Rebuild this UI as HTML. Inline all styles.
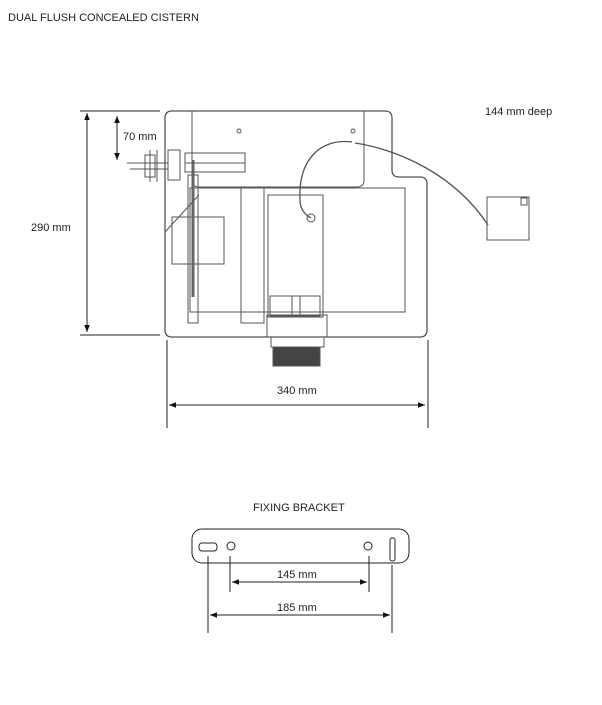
<!DOCTYPE html>
<html><head><style>
body{margin:0;background:#fff;}
svg text{font-family:"Liberation Sans",sans-serif;fill:#222;}
</style></head><body>
<svg width="602" height="700" viewBox="0 0 602 700" xmlns="http://www.w3.org/2000/svg">
<defs>
<marker id="a" viewBox="0 0 10 10" refX="10" refY="5" markerWidth="7" markerHeight="7" orient="auto-start-reverse"><path d="M0,1L10,5L0,9z" fill="#111"/></marker>
</defs>
<text x="8" y="21" font-size="11">DUAL FLUSH CONCEALED CISTERN</text>
<g stroke="#555" fill="none" stroke-width="1">
<!-- cistern outline -->
<path d="M172,111 H385 Q392,111 392,118 V170 Q392,177 399,177 H420 Q427,177 427,184 V330 Q427,337 420,337 H172 Q165,337 165,330 V118 Q165,111 172,111 Z" stroke-width="1.3"/>
<path d="M192,111 V180 Q192,187 199,187 H357 Q364,187 364,180 V111"/>
<rect x="190" y="188" width="215" height="124"/>
<rect x="241" y="188" width="23" height="135"/>
<rect x="268" y="195" width="55" height="122"/>
<rect x="188" y="175" width="10" height="148"/>
<rect x="172" y="217" width="52" height="47"/>
<line x1="193" y1="160" x2="193" y2="297" stroke-width="3" stroke="#666"/>
<rect x="185" y="153" width="60" height="19"/>
<line x1="185" y1="163" x2="245" y2="163"/>
<rect x="168" y="150" width="12" height="30"/>
<rect x="145" y="155" width="10" height="22"/>
<line x1="127" y1="163" x2="168" y2="163"/>
<line x1="130" y1="169" x2="168" y2="169"/>
<line x1="150" y1="150" x2="150" y2="182"/>
<line x1="157" y1="150" x2="157" y2="182"/>
<line x1="199" y1="195" x2="165" y2="232"/>
<!-- outlet -->
<rect x="267" y="315" width="60" height="22"/>
<rect x="270" y="296" width="50" height="20"/>
<line x1="292" y1="296" x2="292" y2="316"/><line x1="300" y1="296" x2="300" y2="316"/>
<rect x="271" y="337" width="53" height="10"/>
<rect x="273" y="347" width="47" height="19" fill="#444"/>
<!-- hose -->
<path d="M352,142 C320,138 298,160 300,200 Q300,212 311,218" stroke-width="1.3"/>
<circle cx="311" cy="218" r="4"/>
<path d="M355,143 C400,150 455,175 488,225" stroke-width="1.3"/>
<rect x="487" y="197" width="42" height="43"/>
<rect x="521" y="198" width="6" height="7"/>
<circle cx="239" cy="131" r="2"/><circle cx="353" cy="131" r="2"/>
</g>
<g stroke="#222" stroke-width="1" fill="none">
<line x1="80" y1="111" x2="160" y2="111"/>
<line x1="80" y1="335" x2="160" y2="335"/>
<line x1="87" y1="113" x2="87" y2="332" marker-start="url(#a)" marker-end="url(#a)"/>
<line x1="117" y1="116" x2="117" y2="160" marker-start="url(#a)" marker-end="url(#a)"/>
<line x1="167" y1="340" x2="167" y2="428"/>
<line x1="428" y1="340" x2="428" y2="428"/>
<line x1="169" y1="405" x2="425" y2="405" marker-start="url(#a)" marker-end="url(#a)"/>
</g>
<text x="123" y="140" font-size="11">70 mm</text>
<text x="31" y="231" font-size="11">290 mm</text>
<text x="277" y="394" font-size="11">340 mm</text>
<text x="485" y="115" font-size="11">144 mm deep</text>
<text x="253" y="511" font-size="11">FIXING BRACKET</text>
<g stroke="#222" stroke-width="1" fill="none">
<rect x="192" y="529" width="217" height="34" rx="10"/>
<rect x="199" y="543" width="18" height="8" rx="3"/>
<circle cx="231" cy="546" r="4"/>
<circle cx="368" cy="546" r="4"/>
<rect x="390" y="538" width="5" height="23" rx="2"/>
<line x1="208" y1="556" x2="208" y2="633"/>
<line x1="230" y1="556" x2="230" y2="592"/>
<line x1="369" y1="556" x2="369" y2="592"/>
<line x1="392" y1="565" x2="392" y2="633"/>
<line x1="232" y1="582" x2="367" y2="582" marker-start="url(#a)" marker-end="url(#a)"/>
<line x1="210" y1="615" x2="390" y2="615" marker-start="url(#a)" marker-end="url(#a)"/>
</g>
<text x="277" y="578" font-size="11">145 mm</text>
<text x="277" y="611" font-size="11">185 mm</text>
</svg>
</body></html>
